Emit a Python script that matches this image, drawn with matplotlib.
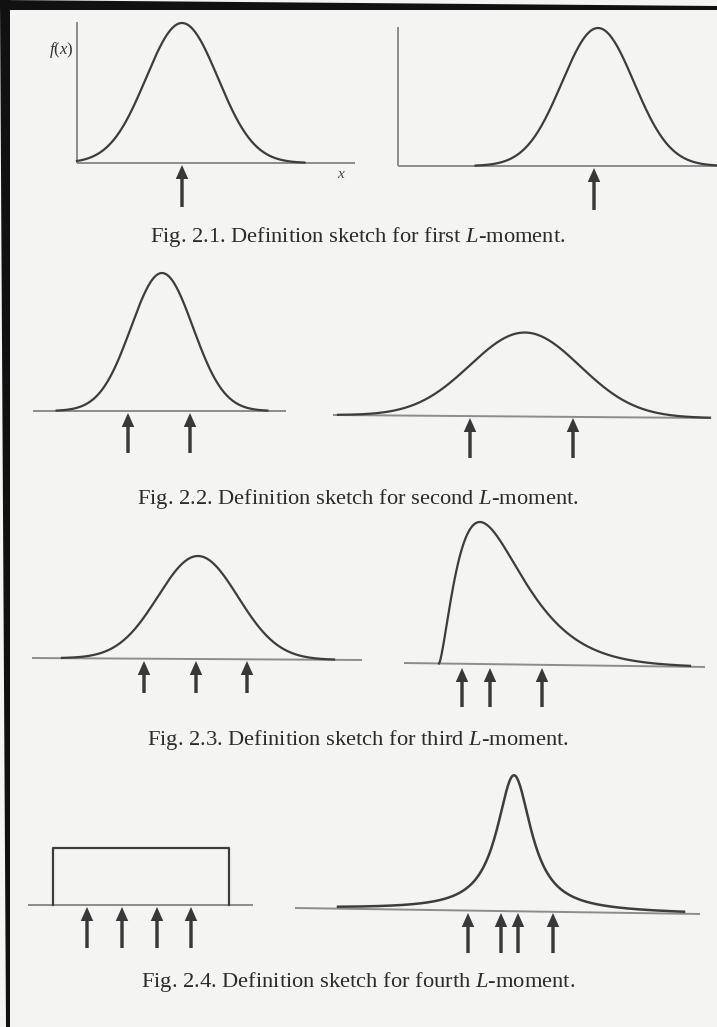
#
# definition sketches for the first four L-moments (scanned book page)
#

import numpy as np
import matplotlib.pyplot as plt

plt.rcParams["font.family"] = ["Liberation Serif", "DejaVu Serif"]
plt.rcParams["mathtext.fontset"] = "custom"
plt.rcParams["mathtext.rm"] = "Liberation Serif"
plt.rcParams["mathtext.it"] = "Liberation Serif:italic"


W, H = 717, 1027   # page size in pixels

# captions below each row of sketches
captions = [
	r"Fig. 2.1. Definition sketch for first $L$-moment.",
	r"Fig. 2.2. Definition sketch for second $L$-moment.",
	r"Fig. 2.3. Definition sketch for third $L$-moment.",
	r"Fig. 2.4. Definition sketch for fourth $L$-moment.",
]
caption_y = [237, 499, 740, 982]

# baselines of the 8 sketches (left/right end, height at both ends)
base_x0 = [77, 398, 33, 333, 32, 404, 28, 295]
base_x1 = [355, 717, 286, 710, 362, 705, 253, 700]
base_y0 = [163, 166, 411, 415, 658, 663, 905, 908]
base_y1 = [163, 166, 411, 418, 660, 667, 905, 914]

# vertical axes of fig. 2.1 (top end)
yaxis_top = [22, 27]

# symmetric bell curves: sketch index, centre, spread, peak height
bell_idx = [0, 1, 2, 3, 4]
bell_mu  = [182, 598, 162, 525, 198]
bell_sd  = [36, 36, 31, 55, 40]
bell_h   = [140, 138, 138, 84, 103]

# skewed curve of fig. 2.3 (right): lower bound, shape, scale, peak height, end
skew_lo    = 439
skew_shape = 1.5
skew_scale = 27.3
skew_h     = 142
skew_hi    = 690

# peaked, long-tailed curve of fig. 2.4 (right)
peak_mu  = 514
peak_hw  = 21
peak_h   = 136
peak_lo  = 338
peak_hi  = 684

# uniform box of fig. 2.4 (left)
box_x   = [53, 229]
box_top = 848

# arrows marking the L-moment points
arrow_x = [
	[182],
	[594],
	[128, 190],
	[470, 573],
	[144, 196, 247],
	[462, 490, 542],
	[87, 122, 157, 191],
	[468, 501, 518, 553],
]
arrow_tip  = [165, 168, 413, 418, 661, 668, 907, 913]
arrow_tail = [207, 210, 453, 458, 693, 707, 948, 953]


curve_col = "#3d3d3d"
axis_col  = "#8c8c8c"
arrow_col = "#383838"


def base_at(i, x):
	t = (np.asarray(x, dtype=float) - base_x0[i]) / (base_x1[i] - base_x0[i])
	return base_y0[i] + t*(base_y1[i] - base_y0[i])


fig = plt.figure(figsize=(W/100, H/100), dpi=100, facecolor="#f4f4f2")
ax = fig.add_axes([0, 0, 1, 1])
ax.set_xlim(0, W)
ax.set_ylim(H, 0)
ax.axis("off")

# scan frame at the top and left edge (slightly skewed)
ax.fill([0, W, W, 0], [0, 6, 10, 10], color="#111111", lw=0)
ax.fill([0, 10, 10, 6], [0, 0, H, H], color="#111111", lw=0)

# baselines
for i in range(len(base_x0)):
	ax.plot([base_x0[i], base_x1[i]], [base_y0[i], base_y1[i]],
		color=axis_col, lw=1.4, solid_capstyle="butt")

# vertical axes of fig. 2.1
for i, top in enumerate(yaxis_top):
	ax.plot([base_x0[i], base_x0[i]], [base_y0[i], top],
		color=axis_col, lw=1.4, solid_capstyle="butt")
ax.text(73, 50, r"$f(x)$", fontsize=12, ha="right", va="center", color="#333333")
ax.text(341, 174, r"$x$", fontsize=11, ha="center", va="center", color="#444444")

# bell curves
for i, mu, sd, h in zip(bell_idx, bell_mu, bell_sd, bell_h):
	xs = np.linspace(max(mu - 3.4*sd, base_x0[i]), min(mu + 3.4*sd, base_x1[i]), 300)
	ys = base_at(i, xs) - h*np.exp(-0.5*((xs - mu)/sd)**2)
	ax.plot(xs, ys, color=curve_col, lw=1.6)

# skewed curve
xs = np.linspace(skew_lo, skew_hi, 400)
u = (xs - skew_lo)/skew_scale
dens = u**skew_shape * np.exp(-u)
ys = base_at(5, xs) - skew_h*dens/dens.max()
ax.plot(xs, ys, color=curve_col, lw=1.6)

# peaked curve
xs = np.linspace(peak_lo, peak_hi, 400)
ys = base_at(7, xs) - peak_h/(1. + ((xs - peak_mu)/peak_hw)**2)
ax.plot(xs, ys, color=curve_col, lw=1.8)

# uniform box
ax.plot([box_x[0], box_x[0], box_x[1], box_x[1]],
	[base_y0[6], box_top, box_top, base_y0[6]], color=curve_col, lw=1.6)

# arrows
for i, xs in enumerate(arrow_x):
	for x in xs:
		ax.arrow(x, arrow_tail[i], 0, arrow_tip[i] - arrow_tail[i],
			width=3.4, head_width=12.5, head_length=14,
			length_includes_head=True, color=arrow_col, lw=0)

# captions
for txt, y in zip(captions, caption_y):
	ax.text(358, y, txt, fontsize=16.2, ha="center", va="center", color="#2b2b2b")

fig.savefig("out.png", dpi=100, facecolor=fig.get_facecolor())
